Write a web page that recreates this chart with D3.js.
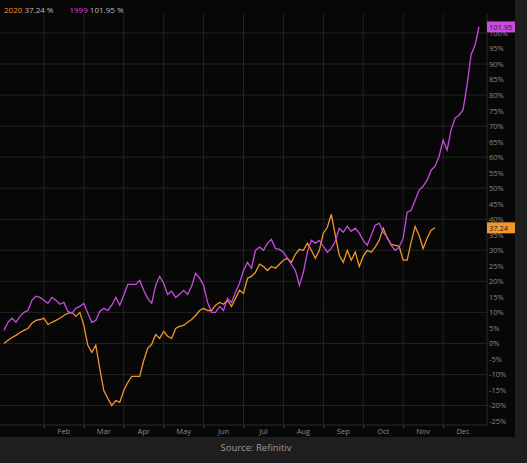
<!DOCTYPE html>
<html><head><meta charset="utf-8">
<script src="https://cdn.jsdelivr.net/npm/d3@7"></script>
<style>body{margin:0;background:#1e1e1e;}svg{display:block;font-family:"Open Sans",sans-serif;}</style>
</head><body><svg id="c" width="527" height="463"></svg>
<script>
const months = ["Jan","Feb","Mar","Apr","May","Jun","Jul","Aug","Sep","Oct","Nov","Dec"];
const step = 0.1; // months between samples
const y1999 = [4.2,6.8,8.1,6.8,8.7,10,10.6,13.9,15.2,14.8,13.9,12.9,14.8,13.9,12.6,13.2,10.3,9.7,11.3,11.9,12.9,9.7,6.8,7.4,10.3,11.3,10.6,12.3,14.8,12.3,15.5,19,19,19,20.3,17.1,14.5,12.9,18.7,21.6,19.4,15.8,16.8,14.8,15.8,17.1,15.8,18.4,22.6,21,18.7,13.2,10,10,11.9,10.6,14.5,13.2,16.5,19.4,23.5,26.1,24.2,30,31,30,32.3,33.5,30.6,30.3,29.4,27.4,25.5,23.5,18.7,22.9,29.4,33.2,32.3,33.2,31.3,29.4,30.6,32.9,37.1,35.8,37.7,36.1,37.1,35.5,33.2,31.6,34.8,38.1,38.7,35.8,34.2,31.6,30,31,33.9,42.3,42.9,46.1,49.4,50.6,52.6,55.8,57.1,60.3,65.5,62.3,68.7,72.6,73.5,75.2,83.2,92.9,96.1,101.95];
const y2020 = [0,1,1.9,2.6,3.5,4.2,4.8,6.5,7.4,7.7,8.1,6.1,6.8,7.4,8.1,9,9.7,10,8.7,10,5.8,-0.6,-2.9,-0.6,-8.1,-15.2,-17.7,-20,-18.4,-19,-15.2,-12.6,-10.6,-10.6,-10.6,-5.5,-1.6,-0.3,2.9,1.6,3.9,2.3,1.6,4.8,5.5,5.8,6.8,7.7,9,10.6,11.3,10.6,10.6,12.3,13.2,12.6,13.9,11.9,14.5,17.1,16.1,21,21.6,22.9,25.5,24.8,23.5,24.8,24.2,25.5,26.8,27.4,26.1,28.7,30.3,30,32.3,30,27.4,30,35.5,37.4,41.6,34.8,28.4,26.1,30,26.8,29.4,24.8,28.1,30,29.4,31,33.2,37.1,33.9,31.9,31.6,31.3,26.8,26.8,32.6,37.7,34.8,30.6,33.9,36.5,37.24];
const yTicks = d3.range(-25,101,5);
const c2020="#f0962a", c1999="#c94ce0";

const svg=d3.select("#c");
svg.append("rect").attr("x",0).attr("y",0).attr("width",515).attr("height",437).attr("fill","#070707");
const x=d3.scaleLinear().domain([0,12]).range([4,483]);
const y=d3.scaleLinear().domain([-25,100]).range([421,33]);
const L=0,R=487,T=14,B=425;
const g=svg.append("g");
g.selectAll(".hg").data(d3.range(-20,101,10)).join("line").attr("x1",L).attr("x2",R)
 .attr("y1",d=>y(d)).attr("y2",d=>y(d)).attr("stroke","#232323");
g.selectAll(".vg").data(d3.range(1,12)).join("line").attr("y1",T).attr("y2",B)
 .attr("x1",d=>x(d)).attr("x2",d=>x(d)).attr("stroke","#232323");
g.append("line").attr("x1",R).attr("x2",R).attr("y1",T).attr("y2",B).attr("stroke","#2a2a2a");
g.append("line").attr("x1",L).attr("x2",R).attr("y1",B).attr("y2",B).attr("stroke","#2a2a2a");
const xa=svg.append("g").attr("transform",`translate(0,${B})`)
 .call(d3.axisBottom(x).tickValues(d3.range(1,12)).tickSize(3).tickFormat(""));
xa.select(".domain").remove(); xa.selectAll("line").attr("stroke","#444");
svg.selectAll(".ml").data(months.slice(1)).join("text").attr("x",(d,i)=>x(i+1.5)).attr("y",434)
 .attr("text-anchor","middle").attr("fill","#8a8a8a").attr("font-size",7.5).text(d=>d);
const ya=svg.append("g").attr("transform",`translate(${R},0)`)
 .call(d3.axisRight(y).tickValues(yTicks).tickSize(0).tickPadding(2).tickFormat(d=>d+"%"));
ya.select(".domain").remove();
ya.selectAll("text").attr("fill","#8a8a8a").attr("font-size",7.5).attr("font-family","Open Sans, sans-serif");
const line=d3.line().x((d,i)=>x(i*step)).y(d=>y(d));
svg.append("path").datum(y2020).attr("d",line).attr("fill","none").attr("stroke",c2020).attr("stroke-width",1.3);
svg.append("path").datum(y1999).attr("d",line).attr("fill","none").attr("stroke",c1999).attr("stroke-width",1.3);
function tag(v,col){
  const yy=y(v);
  svg.append("rect").attr("x",R).attr("y",yy-5.5).attr("width",28).attr("height",11).attr("fill",col);
  svg.append("text").attr("x",R+2).attr("y",yy+3).attr("fill","#222").attr("font-size",7.5).text(v.toFixed(2));
}
tag(y1999[y1999.length-1],c1999);
tag(y2020[y2020.length-1],c2020);
const lg=svg.append("text").attr("x",4).attr("y",13).attr("font-size",8);
lg.append("tspan").attr("fill",c2020).text("2020 ");
lg.append("tspan").attr("fill","#bbb").text(y2020[y2020.length-1].toFixed(2)+" %");
lg.append("tspan").attr("fill",c1999).attr("dx",16).text("1999 ");
lg.append("tspan").attr("fill","#bbb").text(y1999[y1999.length-1].toFixed(2)+" %");
svg.append("text").attr("x",256).attr("y",451).attr("text-anchor","middle").attr("fill","#9a9a9a")
 .attr("font-size",9.5).text("Source: Refinitiv");
</script></body></html>
